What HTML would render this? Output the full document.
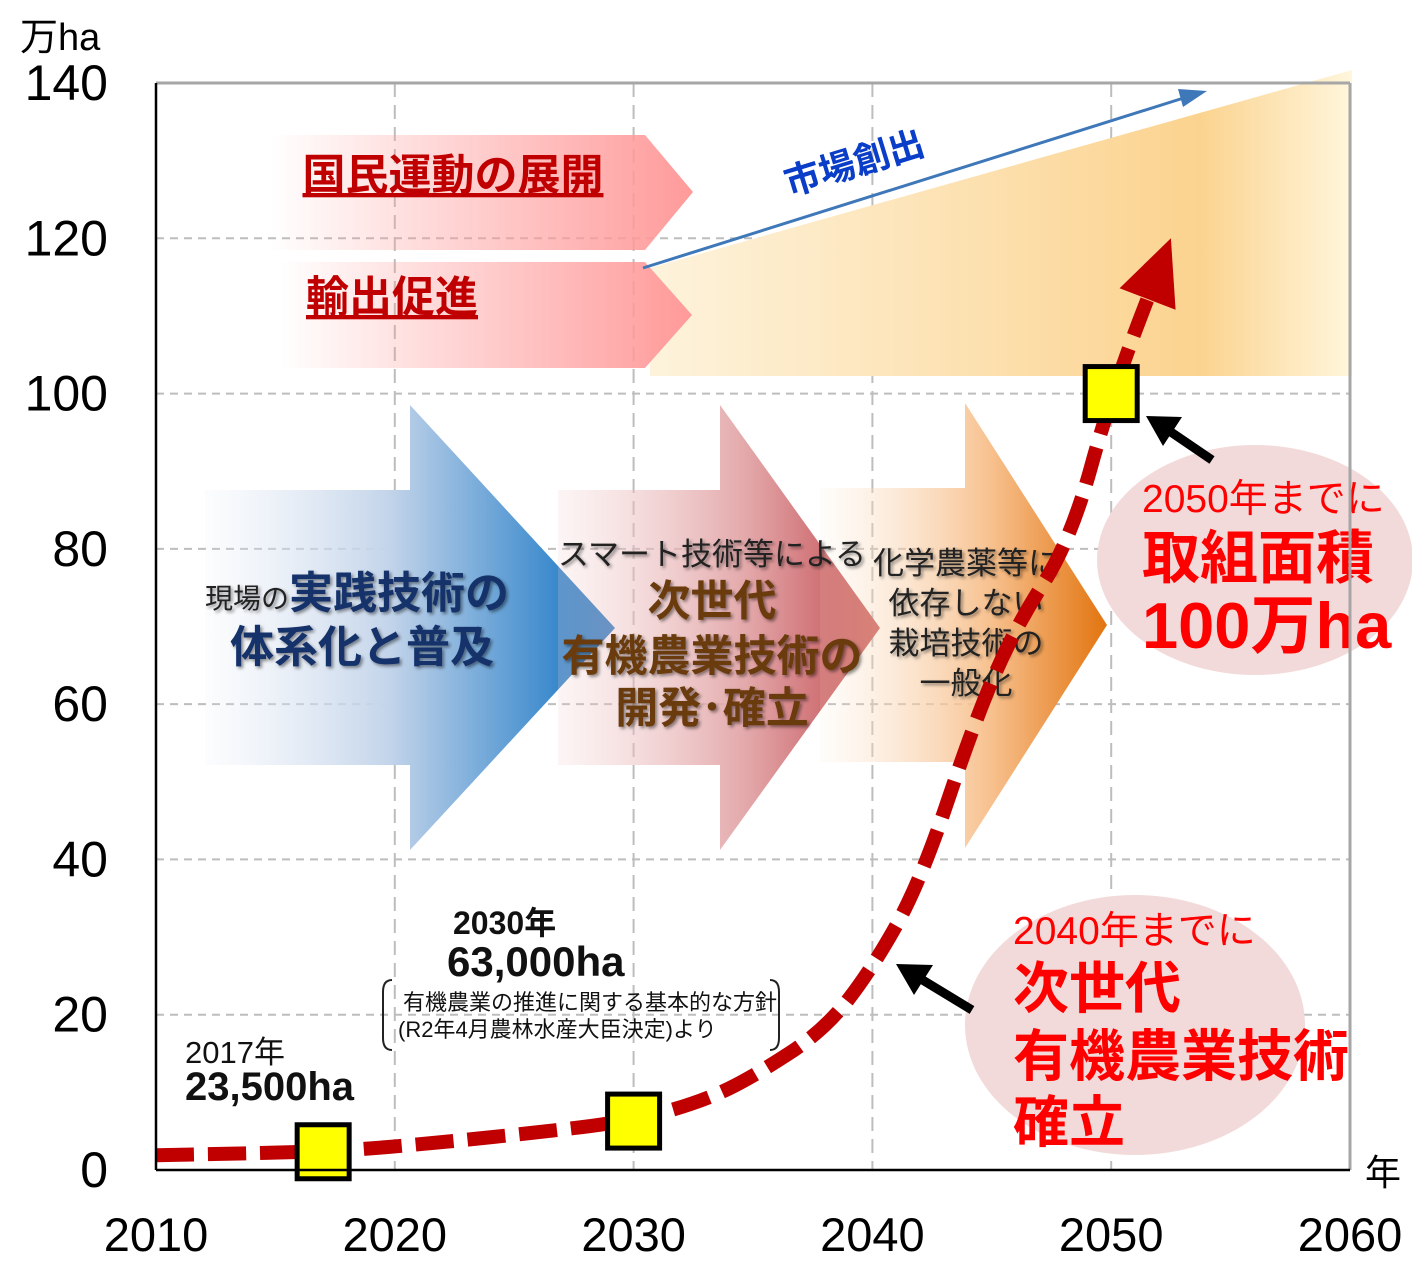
<!DOCTYPE html>
<html><head><meta charset="utf-8"><style>
body{margin:0;background:#fff;}
svg{display:block;font-family:"Liberation Sans","Noto Sans CJK JP",sans-serif;}
</style></head><body>
<svg id="chart" width="1412" height="1282" viewBox="0 0 1412 1282">
<defs>
<linearGradient id="gBand" x1="0" x2="1"><stop offset="0" stop-color="#fffaf0" stop-opacity="0.2"/><stop offset="0.4" stop-color="#fdf3dc"/><stop offset="0.6" stop-color="#fde6bd"/><stop offset="0.87" stop-color="#fbd38f"/><stop offset="1" stop-color="#fff6dc"/></linearGradient>
<linearGradient id="gRed" x1="0" x2="1"><stop offset="0" stop-color="#ff9a9a" stop-opacity="0"/><stop offset="1" stop-color="#ff9a9a"/></linearGradient>
<linearGradient id="gBlue" x1="0" x2="1"><stop offset="0" stop-color="#dfe7f3" stop-opacity="0.1"/><stop offset="0.45" stop-color="#c3d4ea"/><stop offset="1" stop-color="#0a6fc2"/></linearGradient>
<linearGradient id="gPink" x1="0" x2="1"><stop offset="0" stop-color="#f2cdcd" stop-opacity="0.2"/><stop offset="0.6" stop-color="#e2a5a7"/><stop offset="1" stop-color="#c0474c"/></linearGradient>
<linearGradient id="gOrange" x1="0" x2="1"><stop offset="0" stop-color="#fbe3cb" stop-opacity="0.1"/><stop offset="0.6" stop-color="#f7c08d"/><stop offset="1" stop-color="#e2740f"/></linearGradient>
<filter id="sh"><feDropShadow dx="2" dy="2" stdDeviation="1.5" flood-color="#000" flood-opacity="0.45"/></filter>
</defs>
<g id="grid"></g>
<g>
<polygon points="180,376 650,376 650,268 1352,70 1352,376" fill="url(#gBand)"/>
</g>
<g>
<polygon points="270,135 645,135 693,192 645,250 270,250" fill="url(#gRed)"/>
<polygon points="280,262 645,262 692,315 645,368 280,368" fill="url(#gRed)"/>
<text x="453" y="190" font-size="43" font-weight="bold" fill="#c00000" text-anchor="middle" text-decoration="underline">国民運動の展開</text>
<text x="392" y="312" font-size="43" font-weight="bold" fill="#c00000" text-anchor="middle" text-decoration="underline">輸出促進</text>
</g>
<g>
<line x1="643" y1="268" x2="1190" y2="96" stroke="#3f78b8" stroke-width="3"/>
<polygon points="1207,91 1183,107 1178,89" fill="#3f78b8"/>
<text x="858" y="175" font-size="36" font-weight="bold" fill="#0a3ec8" text-anchor="middle" transform="rotate(-17 858 175)">市場創出</text>
</g>
<g>
<polygon points="205,490 410,490 410,405 615,628 410,850 410,765 205,765" fill="url(#gBlue)"/>
<polygon points="558,490 720,490 720,405 880,628 720,850 720,765 558,765" fill="url(#gPink)"/>
<polygon points="820,488 965,488 965,403 1107,625 965,848 965,762 820,762" fill="url(#gOrange)"/>
<g filter="url(#sh)">
<text y="608" font-size="28" fill="#222"><tspan x="205">現場の</tspan><tspan font-size="44" font-weight="bold" fill="#13306a">実践技術の</tspan></text>
<text x="362" y="662" font-size="44" font-weight="bold" fill="#13306a" text-anchor="middle">体系化と普及</text>
<text x="712" y="565" font-size="31" fill="#222" text-anchor="middle">スマート技術等による</text>
<text x="712" y="616" font-size="43" font-weight="bold" fill="#6b3a10" text-anchor="middle">次世代</text>
<text x="712" y="671" font-size="43" font-weight="bold" fill="#6b3a10" text-anchor="middle">有機農業技術の</text>
<text x="712" y="723" font-size="43" font-weight="bold" fill="#6b3a10" text-anchor="middle">開発･確立</text>
<text x="966" y="574" font-size="31" fill="#222" text-anchor="middle">化学農薬等に</text>
<text x="966" y="614" font-size="31" fill="#222" text-anchor="middle">依存しない</text>
<text x="966" y="654" font-size="31" fill="#222" text-anchor="middle">栽培技術の</text>
<text x="966" y="694" font-size="31" fill="#222" text-anchor="middle">一般化</text>
</g>
</g>
<g>
<ellipse cx="1255" cy="560" rx="158" ry="115" fill="#f3dada"/>
<ellipse cx="1135" cy="1025" rx="170" ry="130" fill="#f3dada"/>
<text x="1142" y="512" font-size="39" fill="#ff0000">2050年までに</text>
<text x="1142" y="578" font-size="58" font-weight="bold" fill="#ff0000">取組面積</text>
<text x="1142" y="648" font-size="65" font-weight="bold" fill="#ff0000">100万ha</text>
<text x="1013" y="944" font-size="39" fill="#ff0000">2040年までに</text>
<text x="1013" y="1008" font-size="56" font-weight="bold" fill="#ff0000">次世代</text>
<text x="1013" y="1076" font-size="56" font-weight="bold" fill="#ff0000">有機農業技術</text>
<text x="1013" y="1142" font-size="56" font-weight="bold" fill="#ff0000">確立</text>
<line x1="1212" y1="460" x2="1165" y2="428" stroke="#000" stroke-width="9"/>
<polygon points="1146,416 1182,417 1163,446" fill="#000"/>
<line x1="972" y1="1010" x2="916" y2="976" stroke="#000" stroke-width="9"/>
<polygon points="896,964 933,965 914,995" fill="#000"/>
</g>
<g id="series"></g>
<g>
<text x="185" y="1063" font-size="31" fill="#111">2017年</text>
<text x="185" y="1100" font-size="40" font-weight="bold" fill="#111">23,500ha</text>
<text x="453" y="934" font-size="32" font-weight="bold" fill="#111">2030年</text>
<text x="447" y="976" font-size="42" font-weight="bold" fill="#111">63,000ha</text>
<path d="M392,980 Q383,980 383,992 L383,1038 Q383,1050 392,1050 M770,980 Q779,980 779,992 L779,1038 Q779,1050 770,1050" fill="none" stroke="#222" stroke-width="2"/>
<text x="403" y="1010" font-size="22" fill="#111">有機農業の推進に関する基本的な方針</text>
<text x="398" y="1037" font-size="22" fill="#111">(R2年4月農林水産大臣決定)より</text>
</g>
<g id="axes"></g>
</svg>
<script>
const xTicks = [2010, 2020, 2030, 2040, 2050, 2060];
const yTicks = [0, 20, 40, 60, 80, 100, 120, 140];
const curveYears = [2010, 2017, 2020, 2025, 2030, 2033, 2035, 2038, 2040, 2042, 2044.3, 2046, 2048.3, 2050, 2052.5];
const curveValues = [1.9, 2.35, 3, 4.5, 6.3, 9, 12, 18, 26, 37, 58, 70, 81, 100, 120];
const markerYears = [2017, 2030, 2050];
const markerValues = [2.35, 6.3, 100];

const NS = 'http://www.w3.org/2000/svg';
const X0 = 156, X1 = 1350, Y0 = 1170, Y1 = 83;
function sx(yr){ return X0 + (yr - 2010) / 50 * (X1 - X0); }
function sy(v){ return Y0 - v / 140 * (Y0 - Y1); }
function mk(tag, attrs, parent){ const e = document.createElementNS(NS, tag); for (const k in attrs) e.setAttribute(k, attrs[k]); parent.appendChild(e); return e; }

const grid = document.getElementById('grid');
yTicks.forEach(v => { if (v > 0 && v < 140) {
  const l = mk('line', {x1: X0, x2: X1, y1: sy(v), y2: sy(v), stroke: '#bdbdbd', 'stroke-width': 2, 'stroke-dasharray': '8 6'}, grid);
  
  
}});
xTicks.forEach(t => { if (t > 2010 && t < 2060) {
  const l = mk('line', {x1: sx(t), x2: sx(t), y1: Y1, y2: Y0, stroke: '#bdbdbd', 'stroke-width': 2, 'stroke-dasharray': '14 8'}, grid);
  
  
}});

const ser = document.getElementById('series');
let d = '';
curveYears.forEach((yr, i) => {
  const x = sx(yr), y = sy(curveValues[i]);
  if (i === 0) { d = 'M' + x + ',' + y; }
  else {
    const px = sx(curveYears[i-1]), py = sy(curveValues[i-1]);
    d += ' Q' + px + ',' + py + ' ' + ((px + x) / 2) + ',' + ((py + y) / 2);
  }
});
const n = curveYears.length;
const ex = sx(curveYears[n-1]), ey = sy(curveValues[n-1]);
const bx = sx(curveYears[n-2]), by = sy(curveValues[n-2]);
const ang = Math.atan2(ey - by, ex - bx);
const tipX = ex, tipY = ey;
const baseX = tipX - Math.cos(ang) * 65, baseY = tipY - Math.sin(ang) * 65;
d += ' L' + baseX + ',' + baseY;
const path = mk('path', {d: d, fill: 'none', stroke: '#c00000', 'stroke-width': 14, 'stroke-dasharray': '38 14'}, ser);


const nx = -Math.sin(ang), ny = Math.cos(ang);
const head = mk('polygon', {points: tipX + ',' + tipY + ' ' + (baseX + nx * 30) + ',' + (baseY + ny * 30) + ' ' + (baseX - nx * 30) + ',' + (baseY - ny * 30), fill: '#c00000'}, ser);


markerYears.forEach((yr, i) => {
  const r = mk('rect', {x: sx(yr) - 26, y: sy(markerValues[i]) - 27, width: 52, height: 54, fill: '#ffff00', stroke: '#000', 'stroke-width': 5}, ser);
  
  
});

const ax = document.getElementById('axes');
mk('line', {x1: X0, x2: X1, y1: Y1, y2: Y1, stroke: '#a6a6a6', 'stroke-width': 3}, ax);
mk('line', {x1: X1, x2: X1, y1: Y1, y2: Y0, stroke: '#a6a6a6', 'stroke-width': 3}, ax);
mk('line', {x1: X0, x2: X0, y1: Y1, y2: Y0, stroke: '#000', 'stroke-width': 2.5}, ax);
mk('line', {x1: X0, x2: X1, y1: Y0, y2: Y0, stroke: '#000', 'stroke-width': 2.5}, ax);
yTicks.forEach(v => {
  const t = mk('text', {x: 108, y: sy(v) + 17, 'font-size': 50, 'text-anchor': 'end', fill: '#000'}, ax);
  t.textContent = v;
  
  
});
xTicks.forEach(v => {
  const t = mk('text', {x: sx(v), y: 1251, 'font-size': 47, 'text-anchor': 'middle', fill: '#000'}, ax);
  t.textContent = v;
  
  
});
const yt = mk('text', {x: 20, y: 50, 'font-size': 38, fill: '#000'}, ax);
yt.textContent = '万ha';


const xt = mk('text', {x: 1365, y: 1185, 'font-size': 36, fill: '#000'}, ax);
xt.textContent = '年';


</script>
</body></html>
